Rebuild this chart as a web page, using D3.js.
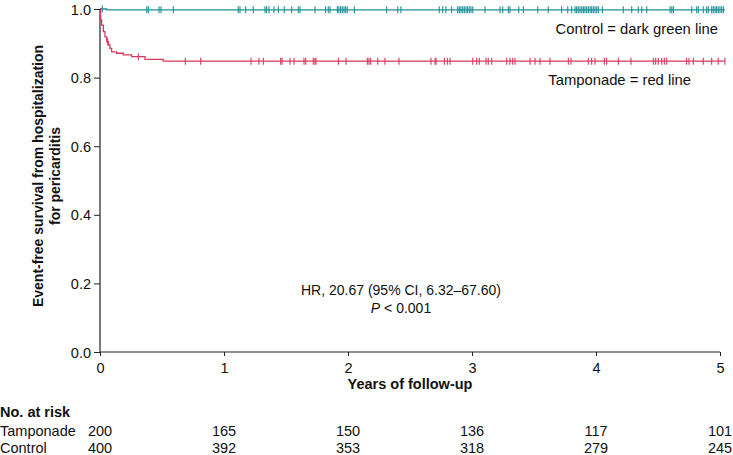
<!DOCTYPE html>
<html><head><meta charset="utf-8">
<script src="https://cdn.jsdelivr.net/npm/d3@7"></script>
<style>
html,body{margin:0;padding:0;background:#fff;}
svg{display:block;font-family:"Liberation Sans",Arial,Helvetica,sans-serif;}
</style></head>
<body><svg id="c" width="733" height="455"></svg>
<script>
// ---- data ----
const xTicks = [0, 1, 2, 3, 4, 5];
const yTicks = [0.0, 0.2, 0.4, 0.6, 0.8, 1.0];
const followEnd = 5.04;

// Kaplan–Meier steps [time (years), survival]
const tamponadeSteps = [[0,1.0],[0.005,0.968],[0.013,0.953],[0.027,0.934],[0.04,0.919],[0.054,0.905],[0.067,0.895],[0.08,0.885],[0.094,0.875],[0.134,0.871],[0.188,0.866],[0.255,0.861],[0.363,0.853],[0.51,0.848]];
const controlSteps = [[0,1.0],[0.054,0.9975]];

// censoring times (years)
const tamponadeCensor = [0.062,0.309,0.688,0.812,1.218,1.282,1.317,1.457,1.468,1.532,1.565,1.645,1.659,1.720,1.734,1.742,1.922,1.984,2.156,2.169,2.183,2.240,2.298,2.411,2.669,2.702,2.710,2.777,2.801,2.823,3.006,3.038,3.059,3.113,3.131,3.159,3.280,3.306,3.328,3.347,3.468,3.508,3.548,3.629,3.777,3.798,3.938,3.965,3.992,4.067,4.086,4.180,4.282,4.462,4.481,4.502,4.530,4.551,4.570,4.731,4.750,4.785,4.865,4.933,4.986,5.040];
const controlCensor = [0.019,0.377,0.390,0.476,0.492,0.591,1.115,1.129,1.175,1.236,1.331,1.344,1.363,1.403,1.438,1.486,1.546,1.599,1.613,1.734,1.819,1.841,1.855,1.914,1.927,1.941,1.954,1.968,1.981,1.994,2.051,2.312,2.401,2.427,2.736,2.764,2.790,2.836,2.885,2.898,2.911,2.925,2.938,2.952,2.965,2.978,2.992,3.006,3.105,3.226,3.248,3.293,3.306,3.377,3.414,3.530,3.615,3.723,3.772,3.804,3.831,3.844,3.857,3.871,3.885,3.898,3.911,3.925,3.938,3.952,3.965,3.978,3.992,4.006,4.019,4.051,4.220,4.288,4.341,4.369,4.409,4.597,4.611,4.624,4.772,4.812,4.825,4.865,4.893,4.906,4.933,4.946,4.960,4.973,4.986,5.0,5.014,5.027];

const riskGroups = ["Tamponade", "Control"];
const riskTamponade = [200, 165, 150, 136, 117, 101];
const riskControl = [400, 392, 353, 318, 279, 245];

const colTamponade = "#d63a5e";
const colControl = "#1c9198";

// ---- drawing ----
const svg = d3.select("#c");
const x = d3.scaleLinear().domain([0, 5]).range([100, 720]);
const y = d3.scaleLinear().domain([0, 1]).range([352, 9]);
const fs = "14.5px";

// axes
const gx = svg.append("g").attr("transform", `translate(0,${y(0)})`)
  .call(d3.axisBottom(x).tickValues(xTicks).tickFormat(d3.format("d")).tickSize(4).tickPadding(3));
const gy = svg.append("g").attr("transform", `translate(${x(0)},0)`)
  .call(d3.axisLeft(y).tickValues(yTicks).tickFormat(d3.format(".1f")).tickSize(6).tickPadding(3));
[gx, gy].forEach(g => {
  g.select(".domain").attr("stroke", "#222").attr("stroke-width", 1.2);
  g.selectAll(".tick line").attr("stroke", "#222");
  g.selectAll(".tick text").attr("fill", "#111").style("font-size", fs).style("font-family", "'Liberation Sans',Arial,sans-serif");
});
gx.selectAll(".tick text").attr("dy", "0.95em");
gy.selectAll(".tick text").attr("dy", "0.35em");
gx.select(".domain").attr("d", `M${x(0)},0H${x(5)}`);
gy.select(".domain").attr("d", `M0,${y(1)}V${y(0)}`);

// KM lines
function stepLine(steps) {
  const pts = steps.concat([[followEnd, steps[steps.length - 1][1]]]);
  return d3.line().x(d => x(d[0])).y(d => y(d[1])).curve(d3.curveStepAfter)(pts);
}
function survAt(steps, t) {
  let s = steps[0][1];
  for (const d of steps) if (d[0] <= t) s = d[1];
  return s;
}
function drawGroup(steps, censor, col) {
  svg.append("path").attr("d", stepLine(steps)).attr("fill", "none")
    .attr("stroke", col).attr("stroke-width", 1.3);
  svg.append("g").selectAll("line").data(censor).join("line")
    .attr("x1", d => x(d)).attr("x2", d => x(d))
    .attr("y1", d => y(survAt(steps, d)) - 3.5).attr("y2", d => y(survAt(steps, d)) + 3.5)
    .attr("stroke", col).attr("stroke-width", 1.1);
}
drawGroup(controlSteps, controlCensor, colControl);
drawGroup(tamponadeSteps, tamponadeCensor, colTamponade);

// legend texts
svg.append("text").attr("x", 718).attr("y", 34).attr("text-anchor", "end")
  .style("font-size", "14.8px").attr("fill", "#111").text("Control = dark green line");
svg.append("text").attr("x", 691).attr("y", 85).attr("text-anchor", "end")
  .style("font-size", "14.8px").attr("fill", "#111").text("Tamponade = red line");

// HR annotation
svg.append("text").attr("x", 401).attr("y", 295).attr("text-anchor", "middle")
  .style("font-size", "14px").attr("fill", "#111").text("HR, 20.67 (95% CI, 6.32\u201367.60)");
const pt = svg.append("text").attr("x", 401).attr("y", 313).attr("text-anchor", "middle")
  .style("font-size", "14px").attr("fill", "#111");
pt.append("tspan").style("font-style", "italic").text("P");
pt.append("tspan").text(" < 0.001");

// axis titles
svg.append("text").attr("x", x(2.5)).attr("y", 389).attr("text-anchor", "middle")
  .style("font-size", fs).style("font-weight", "bold").attr("fill", "#111").text("Years of follow-up");
const yl = svg.append("text").attr("transform", "translate(43,176) rotate(-90)")
  .attr("text-anchor", "middle").style("font-size", "14px").style("font-weight", "bold").attr("fill", "#111");
yl.append("tspan").attr("x", 0).attr("dy", 0).text("Event-free survival from hospitalization");
yl.append("tspan").attr("x", 0).attr("dy", 17).text("for pericarditis");

// number at risk
svg.append("text").attr("x", 0).attr("y", 417).style("font-size", fs).style("font-weight", "bold")
  .attr("fill", "#111").text("No. at risk");
const rows = [riskTamponade, riskControl];
rows.forEach((vals, i) => {
  const ry = 436 + i * 17;
  svg.append("text").attr("x", 0).attr("y", ry).style("font-size", fs).attr("fill", "#111").text(riskGroups[i]);
  svg.append("g").selectAll("text").data(vals).join("text")
    .attr("x", (d, j) => x(xTicks[j])).attr("y", ry).attr("text-anchor", "middle")
    .style("font-size", fs).attr("fill", "#111").text(d => d);
});
</script></body></html>
